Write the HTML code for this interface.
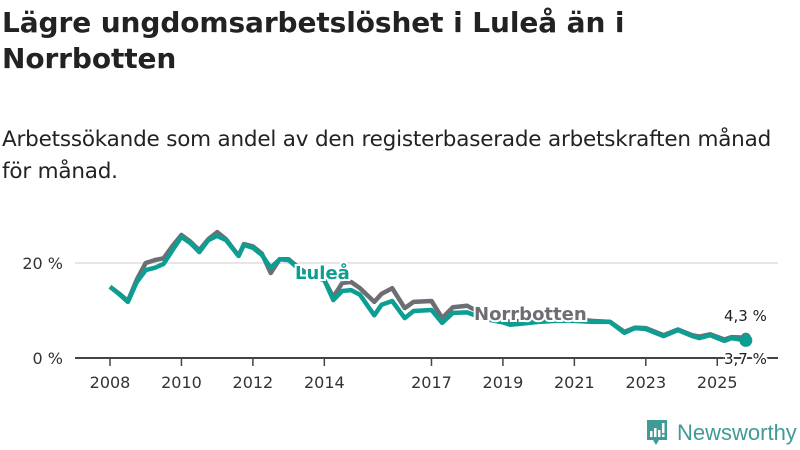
<!DOCTYPE html>
<html><head><meta charset="utf-8">
<style>
body{margin:0;width:800px;height:450px;background:#fff;font-family:"Liberation Sans","DejaVu Sans",sans-serif;overflow:hidden;position:relative;color:#222}
h1{position:absolute;left:2px;top:5px;margin:0;font-size:28px;line-height:36px;font-weight:bold;font-family:"DejaVu Sans",sans-serif;letter-spacing:-0.1px}
p{position:absolute;left:2px;top:124px;margin:0;font-size:21.5px;line-height:32px;font-family:"DejaVu Sans",sans-serif;color:#222;letter-spacing:-0.2px}
svg{position:absolute;left:0;top:0}
</style></head><body>
<h1>Lägre ungdomsarbetslöshet i Luleå än i<br>Norrbotten</h1>
<p>Arbetssökande som andel av den registerbaserade arbetskraften månad<br>för månad.</p>
<svg id="c" width="800" height="450"></svg>
<script>
const years=[2008.0,2008.25,2008.5,2008.75,2009.0,2009.25,2009.5,2009.75,2010.0,2010.25,2010.5,2010.75,2011.0,2011.25,2011.6,2011.75,2012.0,2012.25,2012.5,2012.75,2013.0,2013.25,2013.5,2013.75,2014.0,2014.25,2014.5,2014.75,2015.0,2015.4,2015.6,2015.9,2016.25,2016.5,2017.0,2017.3,2017.6,2018.0,2018.5,2019.0,2019.2,2019.5,2020.0,2020.5,2021.0,2021.5,2022.0,2022.4,2022.7,2023.0,2023.5,2023.9,2024.3,2024.5,2024.8,2025.2,2025.4,2025.8];
const lulea=[15,13.5,11.8,16,18.5,19,19.8,22.7,25.5,24.2,22.3,24.8,25.7,24.8,21.5,23.8,23.2,21.7,19,20.8,20.6,19,17.5,17,16.4,12.2,14.1,14.3,13.3,9,11.2,12,8.4,9.9,10.1,7.4,9.5,9.6,8.2,7.5,7,7.2,7.6,7.8,7.8,7.6,7.6,5.3,6.3,6.1,4.6,5.9,4.6,4.2,4.8,3.6,4.2,3.7];
const norrbotten=[15,13.6,12,16.5,20,20.6,21,23.6,25.9,24.5,22.7,25,26.5,25,21.5,24,23.5,22,17.9,20.8,20.8,19.2,17.8,17.2,16.4,12.8,15.8,16,14.7,11.8,13.5,14.7,10.5,11.8,12,8.4,10.7,11,9,8,7.6,7.8,8,8.2,8.2,7.8,7.6,5.5,6.4,6.3,4.8,6,4.8,4.5,5,3.9,4.4,4.3];
const xTicks=[2008,2010,2012,2014,2017,2019,2021,2023,2025];
const yTicks=[0,20];
const X=y=>110+(y-2008)*35.72, Y=v=>358-v*4.75;
const s=document.getElementById('c'),NS='http://www.w3.org/2000/svg';
function el(t,a,txt){const e=document.createElementNS(NS,t);for(const k in a)e.setAttribute(k,a[k]);if(txt!=null)e.textContent=txt;s.appendChild(e);return e;}
yTicks.forEach(v=>{
 if(v>0){const g=el('line',{x1:75,x2:778,y1:Y(v),y2:Y(v),stroke:'#ddd','stroke-width':1.5});
 
 }
 const t=el('text',{x:63,y:Y(v)+6,'text-anchor':'end','font-size':16,fill:'#333','font-family':'DejaVu Sans,sans-serif'},v+' %');
 
 
});
const ax=el('line',{x1:75,x2:778,y1:358,y2:358,stroke:'#444','stroke-width':2});


xTicks.forEach(v=>{
 const tk=el('line',{x1:X(v),x2:X(v),y1:358,y2:366,stroke:'#444','stroke-width':1.5});
 
 
 const t=el('text',{x:X(v),y:388,'text-anchor':'middle','font-size':16,fill:'#333','font-family':'DejaVu Sans,sans-serif'},v);
 
 
});
function path(arr){return arr.map((v,i)=>(i?'L':'M')+X(years[i]).toFixed(1)+','+Y(v).toFixed(1)).join('');}
const pn=el('path',{d:path(norrbotten),fill:'none',stroke:'#6d6e73','stroke-width':4.5,'stroke-linejoin':'round'});


const pl=el('path',{d:path(lulea),fill:'none',stroke:'#0d9e93','stroke-width':4.5,'stroke-linejoin':'round'});


const n=years.length-1;
const dn=el('circle',{cx:X(years[n]),cy:Y(norrbotten[n]),r:5,fill:'#6d6e73'});


const dl=el('circle',{cx:X(years[n]),cy:Y(lulea[n]),r:6.5,fill:'#0d9e93'});


function label(x,y,txt,col,name,size,w){
 const t=el('text',{x:x,y:y,'font-size':size,'font-weight':w,fill:col,stroke:'#fff','stroke-width':4,'paint-order':'stroke','font-family':'DejaVu Sans,sans-serif'},txt);
 
 
}
label(295,279,'Luleå','#0d9e93','label-lulea',18,'bold');
label(474,320,'Norrbotten','#6d6e73','label-norrbotten',18,'bold');
label(724,321,'4,3 %','#222','value-label-norrbotten',15,'normal');
label(724,364,'3,7 %','#222','value-label-lulea',15,'normal');
</script>
<div style="position:absolute;left:645px;top:419px;height:28px;display:flex;align-items:center">
<svg width="24" height="30" viewBox="0 0 24 28" style="position:static"><path d="M2 1h20v20h-8l-3 5-3-5H2z" fill="#3f9b94"/><rect x="5" y="12" width="2.5" height="6" fill="#fff"/><rect x="9" y="9" width="2.5" height="9" fill="#fff"/><rect x="13" y="11" width="2.5" height="7" fill="#fff"/><rect x="17" y="4" width="2.5" height="10" fill="#fff"/><rect x="17" y="15.5" width="2.5" height="2.5" fill="#fff"/></svg>
<span style="margin-left:8px;font-size:22px;color:#3f9b94;font-family:'Liberation Sans',sans-serif">Newsworthy</span></div>
</body></html>
